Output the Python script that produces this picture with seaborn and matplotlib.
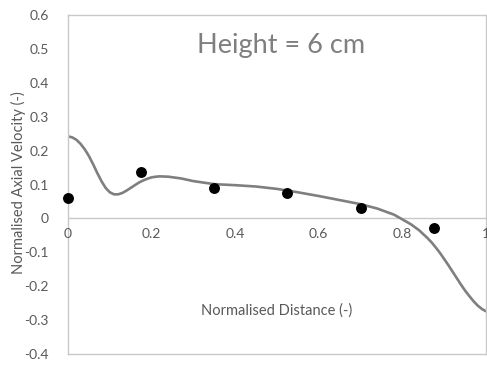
import matplotlib
matplotlib.use("Agg")
import matplotlib.pyplot as plt
import seaborn as sns
import pandas as pd

# Measured velocity profile
dist_pts = [0.0, 0.175, 0.35, 0.525, 0.70, 0.875]
vel_pts = [0.059, 0.136, 0.091, 0.074, 0.032, -0.027]

# Simulated velocity profile
dist_sim = [0.00, 0.01, 0.02, 0.03, 0.04, 0.05, 0.06, 0.07, 0.08, 0.09, 0.10,
            0.11, 0.12, 0.13, 0.14, 0.15, 0.16, 0.17, 0.18, 0.19, 0.20, 0.21,
            0.22, 0.24, 0.27, 0.30, 0.35, 0.40, 0.45, 0.50, 0.55, 0.60, 0.65,
            0.70, 0.74, 0.78, 0.80, 0.82, 0.84, 0.86, 0.87, 0.88, 0.89, 0.90,
            0.91, 0.92, 0.93, 0.94, 0.95, 0.96, 0.97, 0.98, 0.99, 1.00]
vel_sim = [0.242, 0.239, 0.232, 0.220, 0.204, 0.184, 0.160, 0.134, 0.110, 0.090, 0.077,
           0.071, 0.071, 0.075, 0.082, 0.090, 0.098, 0.106, 0.112, 0.117, 0.121, 0.123,
           0.124, 0.123, 0.118, 0.110, 0.101, 0.098, 0.094, 0.087, 0.077, 0.066, 0.054,
           0.042, 0.029, 0.011, -0.003, -0.017, -0.035, -0.058, -0.071, -0.086, -0.102, -0.120,
           -0.138, -0.157, -0.176, -0.195, -0.213, -0.229, -0.244, -0.257, -0.267, -0.274]

x_ticks = [0, 0.2, 0.4, 0.6, 0.8, 1]
x_tick_labels = ["0", "0.2", "0.4", "0.6", "0.8", "1"]
y_ticks = [-0.4, -0.3, -0.2, -0.1, 0, 0.1, 0.2, 0.3, 0.4, 0.5, 0.6]
y_tick_labels = ["-0.4", "-0.3", "-0.2", "-0.1", "0", "0.1", "0.2", "0.3", "0.4", "0.5", "0.6"]

sns.set_style("white")
plt.rcParams["font.family"] = ["Lato", "DejaVu Sans"]

txt = "#595959"
frame = "#c8c8c8"

fig = plt.figure(figsize=(4.87, 3.67), dpi=100)
ax = fig.add_axes([68 / 487, 1 - 354 / 367, 418 / 487, 339 / 367])

sim = pd.DataFrame({"dist": dist_sim, "vel": vel_sim})
meas = pd.DataFrame({"dist": dist_pts, "vel": vel_pts})

ax.axhline(0, color=frame, lw=1.0, zorder=1)
sns.lineplot(data=sim, x="dist", y="vel", ax=ax, color="#7f7f7f", lw=1.9,
             sort=False, zorder=2, solid_joinstyle="round", solid_capstyle="round")
sns.scatterplot(data=meas, x="dist", y="vel", ax=ax, color="black", s=62,
                edgecolor="black", linewidth=0, zorder=3, clip_on=False)

ax.set_xlim(0, 1)
ax.set_ylim(-0.4, 0.6)
ax.set_yticks(y_ticks)
ax.set_yticklabels(y_tick_labels)
ax.set_xticks([])
ax.tick_params(axis="y", length=0, pad=14, labelsize=10, labelcolor=txt)
ax.set_xlabel("")
ax.set_ylabel("")

for xv, lab in zip(x_ticks, x_tick_labels):
    ax.text(xv, -0.045, lab, ha="center", va="center", fontsize=10, color=txt,
            clip_on=False)

for sp in ax.spines.values():
    sp.set_color(frame)
    sp.set_linewidth(1.0)

ax.text(0.51, 0.51, "Height = 6 cm", ha="center", va="center", fontsize=19.5,
        color="#7f7f7f")
ax.text(0.5, -0.272, "Normalised Distance (-)", ha="center", va="center",
        fontsize=10.5, color=txt)
fig.text(18 / 487, 1 - 183 / 367, "Normalised Axial Velocity (-)", rotation=90,
         ha="center", va="center", fontsize=10.5, color=txt)

fig.savefig("out.png", dpi=100)
